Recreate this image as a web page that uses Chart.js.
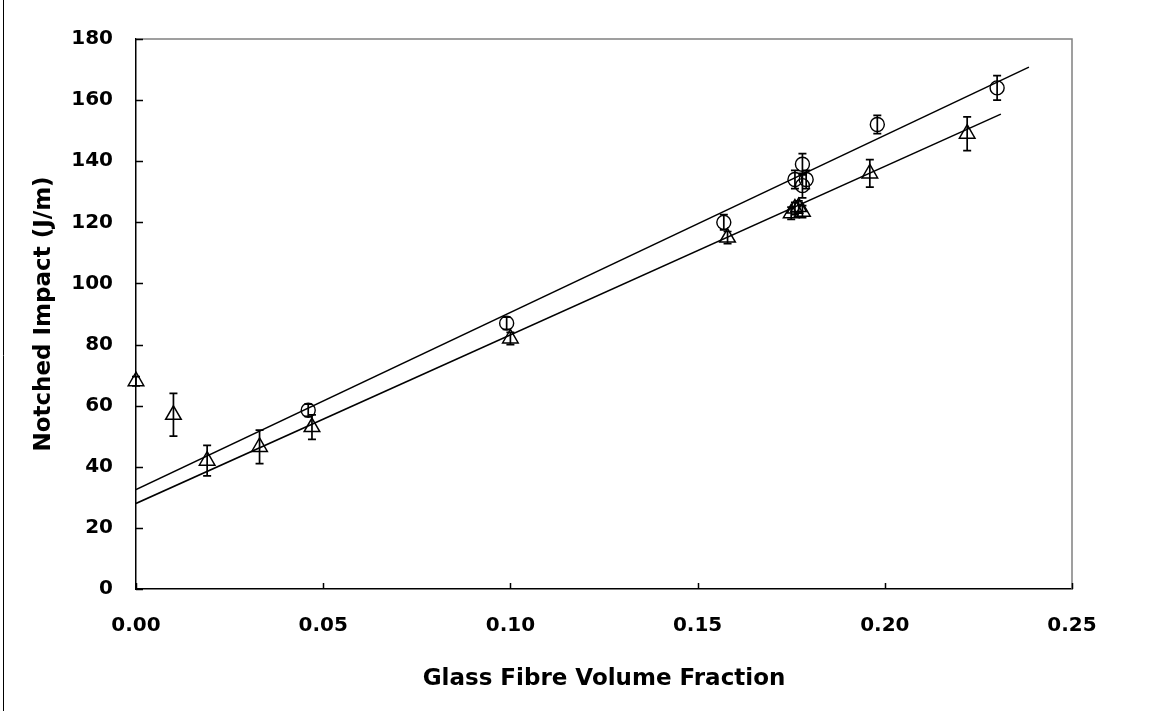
<!DOCTYPE html>
<html>
<head>
<meta charset="utf-8">
<script src="https://cdn.jsdelivr.net/npm/chart.js@4/dist/chart.umd.min.js"></script>
<style>
  html, body { margin: 0; padding: 0; background: #fff; }
  #wrap { width: 1163px; height: 711px; position: relative; }
</style>
</head>
<body>
<div id="wrap"><canvas id="chart" width="1163" height="711"></canvas></div>
<script>
// circles series (upper fit)
const circleX = [0.046, 0.099, 0.157, 0.176, 0.178, 0.178, 0.179, 0.198, 0.230];
const circleY = [58.5, 87, 120, 134, 139, 132, 134, 152, 164];
const circleErr = [2, 2, 2.5, 3, 3.5, 4, 3, 3, 4];

// triangles series (lower fit)
const triX = [0.000, 0.010, 0.019, 0.033, 0.047, 0.100, 0.158, 0.175, 0.176, 0.177, 0.178, 0.196, 0.222];
const triY = [68, 57, 42, 46.5, 53, 82, 115, 123, 124.5, 125, 123.5, 136, 149];
const triErr = [1.5, 7, 5, 5.5, 4, 2, 2, 2, 2, 2, 2, 4.5, 5.5];

// linear fit end points
const fitUpperX = [0.0, 0.2385];
const fitUpperY = [32.5, 170.8];
const fitLowerX = [0.0, 0.231];
const fitLowerY = [28.0, 155.4];

const xTicks = [0, 0.05, 0.10, 0.15, 0.20, 0.25];
const yTicks = [0, 20, 40, 60, 80, 100, 120, 140, 160, 180];

const pts = (xs, ys) => xs.map((x, i) => ({ x: x, y: ys[i] }));

// error bars + inside ticks + frame
const extras = {
    id: "extras",
    beforeDraw(chart) {
        const ctx = chart.ctx;
        ctx.save();
        ctx.strokeStyle = "#000";
        ctx.lineWidth = 1;
        ctx.beginPath();
        ctx.moveTo(3.5, 0);
        ctx.lineTo(3.5, 711);
        ctx.stroke();
        ctx.restore();
    },
    afterDatasetsDraw(chart) {
        const ctx = chart.ctx;
        const xs = chart.scales.x, ys = chart.scales.y;
        ctx.save();
        ctx.strokeStyle = "#000";
        ctx.lineWidth = 1.7;
        const bars = [[circleX, circleY, circleErr], [triX, triY, triErr]];
        bars.forEach(([bx, by, be]) => {
            bx.forEach((x, i) => {
                const px = xs.getPixelForValue(x);
                const top = ys.getPixelForValue(by[i] + be[i]);
                const bot = ys.getPixelForValue(by[i] - be[i]);
                ctx.beginPath();
                ctx.moveTo(px, top); ctx.lineTo(px, bot);
                ctx.moveTo(px - 4, top); ctx.lineTo(px + 4, top);
                ctx.moveTo(px - 4, bot); ctx.lineTo(px + 4, bot);
                ctx.stroke();
            });
        });

        // plot area top/right edge
        const a = chart.chartArea;
        ctx.strokeStyle = "#808080";
        ctx.lineWidth = 1.5;
        ctx.beginPath();
        ctx.moveTo(a.left, a.top); ctx.lineTo(a.right, a.top); ctx.lineTo(a.right, a.bottom);
        ctx.stroke();

        // tick marks drawn inside the plot
        ctx.strokeStyle = "#000";
        ctx.lineWidth = 1.5;
        ctx.beginPath();
        xTicks.forEach(v => {
            const px = Math.round(xs.getPixelForValue(v)) + 0.5;
            ctx.moveTo(px, a.bottom); ctx.lineTo(px, a.bottom - 6);
        });
        yTicks.forEach(v => {
            const py = Math.round(ys.getPixelForValue(v)) + 0.5;
            ctx.moveTo(a.left, py); ctx.lineTo(a.left + 7, py);
        });
        ctx.stroke();
        ctx.restore();
    }
};

const tickFont = { family: "'DejaVu Sans', sans-serif", size: 20, weight: "bold" };
const titleFont = { family: "'DejaVu Sans', sans-serif", size: 23, weight: "bold" };

new Chart(document.getElementById("chart"), {
    type: "scatter",
    data: {
        datasets: [
            {
                label: "fit upper",
                data: pts(fitUpperX, fitUpperY),
                showLine: true,
                borderColor: "#000",
                borderWidth: 1.5,
                pointRadius: 0,
            },
            {
                label: "fit lower",
                data: pts(fitLowerX, fitLowerY),
                showLine: true,
                borderColor: "#000",
                borderWidth: 1.5,
                pointRadius: 0,
            },
            {
                label: "circles",
                data: pts(circleX, circleY),
                pointStyle: "circle",
                pointRadius: 7,
                borderColor: "#000",
                borderWidth: 1.4,
                backgroundColor: "rgba(255,255,255,0)",
                clip: false,
            },
            {
                label: "triangles",
                data: pts(triX, triY),
                pointStyle: "triangle",
                pointRadius: 9,
                borderColor: "#000",
                borderWidth: 1.5,
                backgroundColor: "rgba(255,255,255,0)",
                clip: false,
            },
        ],
    },
    options: {
        responsive: false,
        animation: false,
        devicePixelRatio: 1,
        layout: { padding: { left: 30, top: 39, right: 91, bottom: 18 } },
        plugins: {
            legend: { display: false },
            tooltip: { enabled: false },
        },
        scales: {
            x: {
                type: "linear",
                min: 0,
                max: 0.25,
                afterFit: (s) => { s.height = 104; },
                afterBuildTicks: (s) => { s.ticks = xTicks.map(v => ({ value: v })); },
                ticks: {
                    color: "#000",
                    font: tickFont,
                    padding: 25,
                    maxRotation: 0,
                    callback: (v) => Number(v).toFixed(2),
                },
                grid: { display: false, drawTicks: false },
                border: { display: true, color: "#000", width: 1.5 },
                title: {
                    display: true,
                    text: "Glass Fibre Volume Fraction",
                    color: "#000",
                    font: titleFont,
                    padding: 0,
                },
            },
            y: {
                type: "linear",
                min: 0,
                max: 180,
                afterFit: (s) => { s.width = 106; },
                afterBuildTicks: (s) => { s.ticks = yTicks.map(v => ({ value: v })); },
                ticks: {
                    color: "#000",
                    font: tickFont,
                    padding: 23,
                },
                grid: { display: false, drawTicks: false },
                border: { display: true, color: "#000", width: 1.5 },
                title: {
                    display: true,
                    text: "Notched Impact (J/m)",
                    color: "#000",
                    font: titleFont,
                    padding: 0,
                },
            },
        },
    },
    plugins: [extras],
});
</script>
</body>
</html>
